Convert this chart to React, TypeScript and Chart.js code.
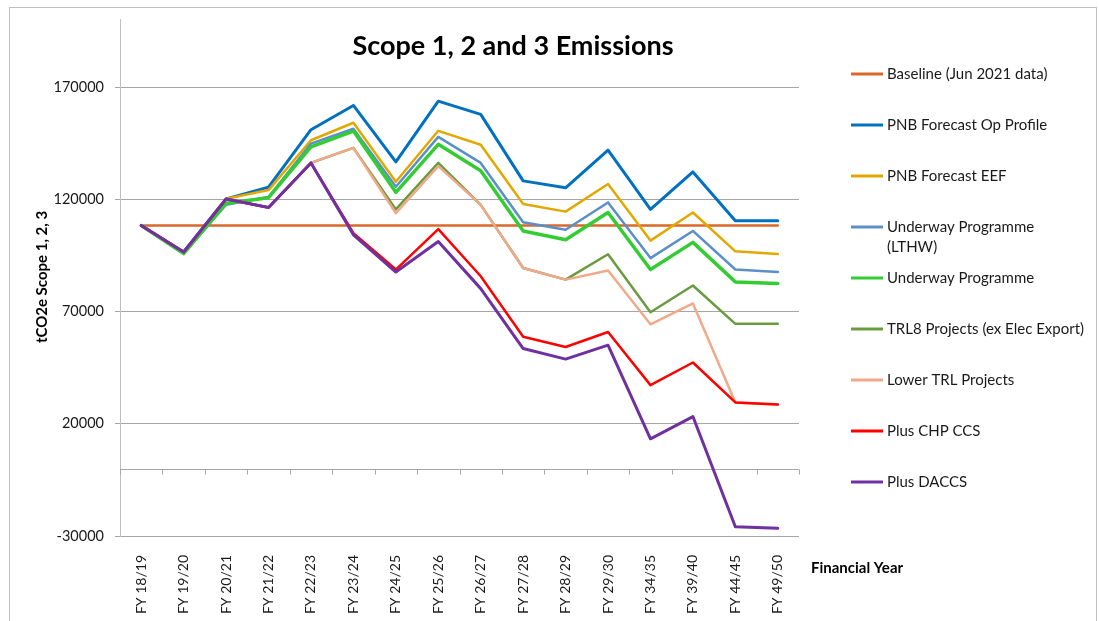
import React, { useEffect, useRef } from "react";
import { Chart, registerables } from "chart.js";

Chart.register(...registerables);

const categories = [
  "FY 18/19", "FY 19/20", "FY 20/21", "FY 21/22", "FY 22/23", "FY 23/24", "FY 24/25", "FY 25/26",
  "FY 26/27", "FY 27/28", "FY 28/29", "FY 29/30", "FY 34/35", "FY 39/40", "FY 44/45", "FY 49/50",
];

const yTicks = [-30000, 20000, 70000, 120000, 170000];

const baseline = [108300, 108300, 108300, 108300, 108300, 108300, 108300, 108300, 108300, 108300, 108300, 108300, 108300, 108300, 108300, 108300];
const opProfile = [108300, 96500, 120200, 125400, 151000, 161800, 136700, 163700, 157800, 128200, 125100, 141900, 115500, 132200, 110400, 110400];
const eef = [108300, 96500, 120200, 124100, 146300, 154100, 127800, 150500, 144300, 117900, 114500, 126800, 101600, 114100, 96800, 95600];
const lthw = [108300, 96000, 117600, 121000, 144800, 151400, 125600, 147800, 136200, 109800, 106400, 118600, 93800, 105900, 88700, 87600];
const underway = [108300, 95800, 118200, 120700, 143300, 150400, 123100, 144500, 132700, 105900, 102000, 114100, 88700, 100800, 83200, 82500];
const trl8 = [108300, 96500, 120100, 116300, 136200, 142900, 115500, 136200, 117500, 89400, 84200, 95500, 69700, 81600, 64500, 64500];
const lowerTrl = [108300, 96500, 120100, 116300, 136200, 142900, 113800, 134800, 117500, 89400, 84200, 88300, 64300, 73600, 29500, 28600];
const chpCcs = [108300, 96500, 120100, 116300, 136200, 104900, 88700, 106700, 85700, 58800, 54200, 60900, 37200, 47300, 29500, 28600];
const daccs = [108300, 96500, 120100, 116300, 136200, 104200, 87600, 101200, 80200, 53500, 48800, 55000, 13300, 23200, -25900, -26600];

const seriesLabels = [
  ["Baseline (Jun 2021 data)"],
  ["PNB Forecast Op Profile"],
  ["PNB Forecast EEF"],
  ["Underway Programme", "(LTHW)"],
  ["Underway Programme"],
  ["TRL8 Projects (ex Elec Export)"],
  ["Lower TRL Projects"],
  ["Plus CHP CCS"],
  ["Plus DACCS"],
];
const seriesData = [baseline, opProfile, eef, lthw, underway, trl8, lowerTrl, chpCcs, daccs];
const seriesColors = ["#D9692B", "#0070C0", "#E3A800", "#5A8FC8", "#33CC33", "#6A9B3F", "#F2A98A", "#FF0000", "#7030A0"];
const seriesWidths = [2.5, 3, 2.5, 2.5, 3.5, 2.5, 2.5, 2.5, 3];

const FONT = "Lato, 'Open Sans', sans-serif";

const decorPlugin = {
  id: "decor",
  beforeDraw(chart: any) {
    const ctx = chart.ctx;
    ctx.save();
    ctx.strokeStyle = "#BFBFBF";
    ctx.lineWidth = 1;
    ctx.strokeRect(9.5, 7.5, 1087, 700);
    ctx.restore();
  },
  beforeDatasetsDraw(chart: any) {
    const ctx = chart.ctx;
    const ys = chart.scales.y;
    const y0 = Math.round(ys.getPixelForValue(0)) + 0.5;
    const { left, right } = chart.chartArea;
    ctx.save();
    ctx.strokeStyle = "#A6A6A6";
    ctx.lineWidth = 1;
    ctx.beginPath();
    ctx.moveTo(left, y0);
    ctx.lineTo(right, y0);
    const n = categories.length;
    const step = (right - left) / n;
    for (let i = 0; i <= n; i++) {
      const x = Math.round(left + step * i) + 0.5;
      ctx.moveTo(x, y0);
      ctx.lineTo(x, y0 + 5);
    }
    ctx.stroke();
    ctx.restore();
  },
  afterDraw(chart: any) {
    const ctx = chart.ctx;
    ctx.save();
    ctx.fillStyle = "#000";
    ctx.font = `bold 27px ${FONT}`;
    ctx.textAlign = "center";
    ctx.textBaseline = "alphabetic";
    ctx.fillText("Scope 1, 2 and 3 Emissions", 513, 55);

    ctx.font = `bold 15px ${FONT}`;
    ctx.textAlign = "left";
    ctx.textBaseline = "middle";
    ctx.fillText("Financial Year", 811, 568);

    ctx.save();
    ctx.translate(42, 277);
    ctx.rotate(-Math.PI / 2);
    ctx.textAlign = "center";
    ctx.fillText("tCO2e Scope 1, 2, 3", 0, 0);
    ctx.restore();

    // legend
    const yStart = 74;
    const gap = 51;
    ctx.font = `15px ${FONT}`;
    ctx.textAlign = "left";
    ctx.textBaseline = "middle";
    seriesLabels.forEach((lines, i) => {
      const y = yStart + gap * i;
      ctx.strokeStyle = seriesColors[i];
      ctx.lineWidth = 3;
      ctx.beginPath();
      ctx.moveTo(851, y);
      ctx.lineTo(883, y);
      ctx.stroke();
      ctx.fillStyle = "#1a1a1a";
      lines.forEach((t, j) => ctx.fillText(t, 887, y + j * 20));
    });
    ctx.restore();
  },
};

export default function App() {
  const ref = useRef<HTMLCanvasElement>(null);
  useEffect(() => {
    if (!ref.current) return;
    const chart = new Chart(ref.current, {
      type: "line",
      data: {
        labels: categories,
        datasets: seriesData.map((d, i) => ({
          label: seriesLabels[i].join(" "),
          data: d,
          borderColor: seriesColors[i],
          backgroundColor: seriesColors[i],
          borderWidth: seriesWidths[i],
          pointRadius: 0,
          tension: 0,
          fill: false,
          borderJoinStyle: "round" as const,
          borderCapStyle: "round" as const,
          order: -i,
        })),
      },
      options: {
        animation: false,
        responsive: true,
        maintainAspectRatio: false,
        layout: { padding: { left: 0, top: 16, right: 300, bottom: 0 } },
        plugins: { legend: { display: false }, title: { display: false }, tooltip: { enabled: false } },
        scales: {
          x: {
            type: "category",
            offset: true,
            grid: { display: false },
            border: { display: false },
            ticks: {
              autoSkip: false,
              maxRotation: 90,
              minRotation: 90,
              padding: 11,
              color: "#1a1a1a",
              font: { family: FONT, size: 14 },
            },
            afterFit(scale: any) {
              scale.height = 85;
            },
          },
          y: {
            min: -30000,
            max: 200000,
            afterBuildTicks(scale: any) {
              scale.ticks = yTicks.map((v) => ({ value: v }));
            },
            afterFit(scale: any) {
              scale.width = 120;
            },
            grid: { color: "#A6A6A6", lineWidth: 1, tickLength: 5, drawTicks: true },
            border: { display: true, color: "#BFBFBF", width: 1 },
            ticks: {
              padding: 11,
              color: "#1a1a1a",
              font: { family: FONT, size: 14.5 },
              callback: (v: any) => String(v),
            },
          },
        },
      },
      plugins: [decorPlugin],
    });
    return () => chart.destroy();
  }, []);
  return (
    <div style={{ position: "absolute", left: 0, top: 0, width: 1099, height: 621, background: "#fff" }}>
      <canvas ref={ref} />
    </div>
  );
}
